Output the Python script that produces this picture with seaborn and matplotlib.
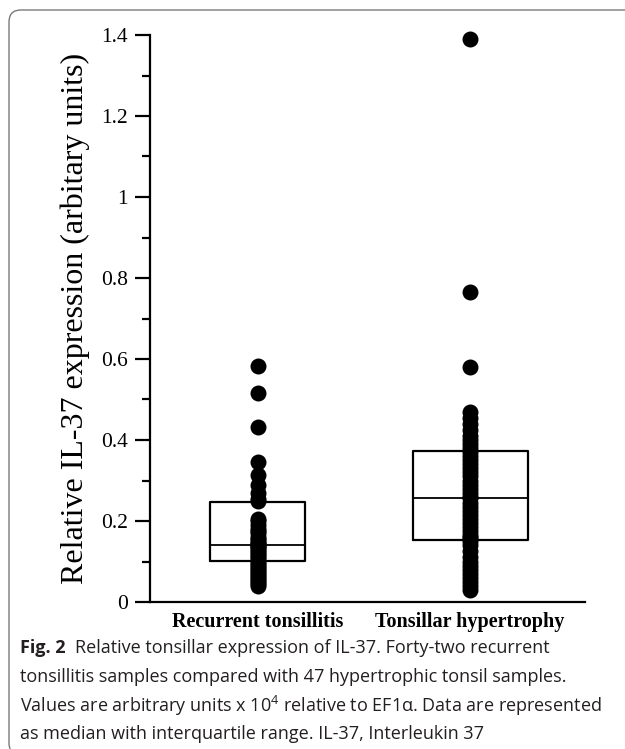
import numpy as np
import pandas as pd
import seaborn as sns
import matplotlib as mpl
import matplotlib.pyplot as plt
from matplotlib.patches import FancyBboxPatch
from matplotlib.ticker import MultipleLocator
from matplotlib.transforms import IdentityTransform

# ---------------- data ----------------
categories = ["Recurrent tonsillitis", "Tonsillar hypertrophy"]

rt_values = [0.583, 0.516, 0.432, 0.346, 0.314, 0.29, 0.27, 0.255, 0.25, 0.205,
             0.20, 0.19, 0.18, 0.175, 0.17, 0.16, 0.155, 0.15, 0.145, 0.142,
             0.14, 0.138, 0.135, 0.13, 0.125, 0.12, 0.115, 0.11, 0.105, 0.10,
             0.095, 0.09, 0.085, 0.08, 0.075, 0.07, 0.065, 0.06, 0.055, 0.05,
             0.045, 0.04]

th_values = [1.39, 0.765, 0.58, 0.47, 0.455, 0.44, 0.425, 0.41, 0.40, 0.39,
             0.38, 0.37, 0.36, 0.35, 0.34, 0.33, 0.32, 0.31, 0.30, 0.29,
             0.28, 0.27, 0.26, 0.257, 0.245, 0.235, 0.225, 0.215, 0.205, 0.195,
             0.185, 0.175, 0.165, 0.16, 0.155, 0.15, 0.14, 0.125, 0.11, 0.10,
             0.09, 0.08, 0.07, 0.06, 0.05, 0.04, 0.03]

q1_values = [0.101, 0.153]
median_values = [0.141, 0.257]
q3_values = [0.247, 0.373]

y_ticks = [0, 0.2, 0.4, 0.6, 0.8, 1.0, 1.2, 1.4]
y_tick_labels = ["0", "0.2", "0.4", "0.6", "0.8", "1", "1.2", "1.4"]

y_label = "Relative IL-37 expression (arbitary units)"
caption_bold = "Fig. 2"
caption_first = "Relative tonsillar expression of IL-37. Forty-two recurrent"
caption_lines = [
    "tonsillitis samples compared with 47 hypertrophic tonsil samples.",
    "Values are arbitrary units x 10$^{4}$ relative to EF1α. Data are represented",
    "as median with interquartile range. IL-37, Interleukin 37",
]

# ---------------- style ----------------
sns.set_theme(style="ticks")
plt.rcParams['font.family'] = ['Liberation Serif', 'DejaVu Serif']
plt.rcParams['mathtext.fontset'] = 'custom'
plt.rcParams['mathtext.rm'] = 'Open Sans'
plt.rcParams['mathtext.it'] = 'Open Sans'

df = pd.DataFrame({
    "group": [categories[0]] * len(rt_values) + [categories[1]] * len(th_values),
    "value": rt_values + th_values,
})

W, H = 625, 749
fig = plt.figure(figsize=(W / 100, H / 100), dpi=100)
fig.patch.set_facecolor("white")
ax = fig.add_axes([150 / W, 1 - 602 / H, (585 - 150) / W, (602 - 35) / H])

sns.stripplot(data=df, x="group", y="value", order=categories, jitter=False,
              color="black", size=11.5, linewidth=0, ax=ax, zorder=3, clip_on=False)

stats = []
for i in range(len(categories)):
    stats.append({"med": median_values[i], "q1": q1_values[i], "q3": q3_values[i],
                  "whislo": q1_values[i], "whishi": q3_values[i], "fliers": []})
ax.bxp(stats, positions=[0, 1], widths=[0.448, 0.542], showcaps=False,
       showfliers=False, manage_ticks=False,
       boxprops=dict(color="black", linewidth=1.6),
       medianprops=dict(color="black", linewidth=1.3),
       whiskerprops=dict(linewidth=0))

ax.set_xlim(-0.509, 1.542)
ax.set_ylim(0, 1.4)
ax.set_yticks(y_ticks)
ax.set_yticklabels(y_tick_labels)
ax.yaxis.set_minor_locator(MultipleLocator(0.1))

for s in ["top", "right"]:
    ax.spines[s].set_visible(False)
for s in ["left", "bottom"]:
    ax.spines[s].set_linewidth(1.6)
    ax.spines[s].set_color("black")

ax.tick_params(axis="y", which="major", length=11, width=1.6, labelsize=15.5,
               pad=5, color="black", labelcolor="black")
ax.tick_params(axis="y", which="minor", length=5.5, width=1.6, color="black")
ax.tick_params(axis="x", length=0, labelsize=14.5, pad=7, labelcolor="black")
for lbl in ax.get_xticklabels():
    lbl.set_fontweight("bold")
ax.set_xlabel("")
ax.set_ylabel(y_label, fontsize=23, labelpad=8, color="black")
ax.set_facecolor("white")
ax.grid(False)

# ---------------- caption ----------------
cap_font = ['Open Sans', 'DejaVu Sans']
cap_color = "#231f20"
cap_size = 13
x0 = 20 / W
line_y = [648, 677, 706, 734]
renderer = fig.canvas.get_renderer()
t = fig.text(x0, 1 - line_y[0] / H, caption_bold, fontsize=cap_size,
             fontweight="bold", family=cap_font, color=cap_color, va="center")
bb = t.get_window_extent(renderer)
fig.text((bb.x1 + 9) / W, 1 - line_y[0] / H, caption_first, fontsize=cap_size,
         family=cap_font, color=cap_color, va="center")
for yy, txt in zip(line_y[1:], caption_lines):
    fig.text(x0, 1 - yy / H, txt, fontsize=cap_size, family=cap_font,
             color=cap_color, va="center")

# ---------------- border ----------------
border = FancyBboxPatch((9, -6), 700, H - 10 + 6,
                        boxstyle="round,pad=0,rounding_size=12",
                        transform=IdentityTransform(), facecolor="none",
                        edgecolor="#7a7a7a", linewidth=1.0)
fig.add_artist(border)

fig.savefig("out.png", dpi=100)
